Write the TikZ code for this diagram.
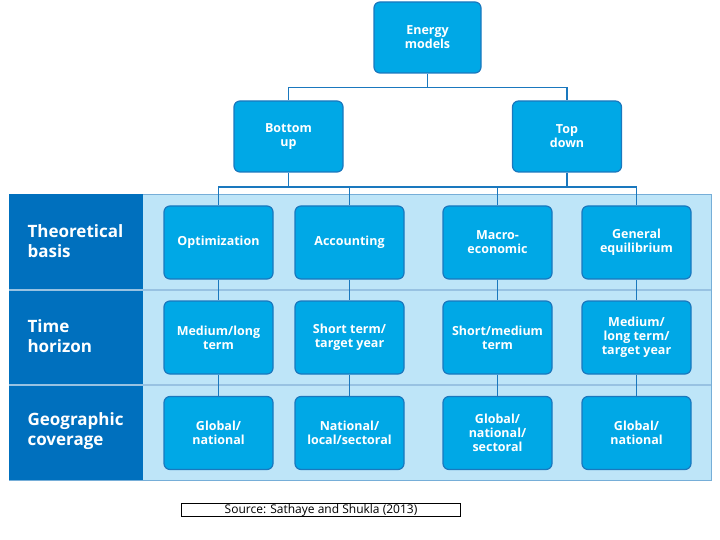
\documentclass[tikz,border=0pt]{standalone}
\usepackage{fontspec}
\setmainfont{Open Sans}
\begin{document}
\begin{tikzpicture}[x=1pt,y=-1pt,
  box/.style={draw=boxline,line width=1.2pt,fill=boxfill,rounded corners=6pt,text=white,font=\bfseries\fontsize{12.5}{14}\selectfont,align=center,minimum width=109pt,minimum height=73pt,inner sep=1pt},
  cat/.style={text=white,font=\bfseries\fontsize{17}{19.5}\selectfont,align=left,anchor=west},
  conn/.style={draw=boxline,line width=1.6pt}]
\definecolor{boxfill}{RGB}{0,168,230}
\definecolor{boxline}{RGB}{26,120,190}
\definecolor{darkcol}{RGB}{0,112,190}
\definecolor{lightbg}{RGB}{190,229,248}
\useasboundingbox (0,0) rectangle (720,540);
\fill[lightbg] (9,194) rectangle (711,480);
\draw[boxline!60,line width=0.8pt] (9,194) rectangle (711,480);
\fill[darkcol] (9,194) rectangle (143,480);
\draw[boxline!45,line width=1.5pt] (9,290) -- (711,290) (9,385) -- (711,385);
\node[box,minimum height=71pt,minimum width=107pt] (em) at (427.5,37.5) {Energy\\models};
\node[box,minimum height=71pt] (bu) at (288.5,136.5) {Bottom\\up};
\node[box,minimum height=71pt] (td) at (567,136.5) {Top\\down};
\node[box] (a1) at (218.5,242.5) {Optimization};
\node[box] (b1) at (349.5,242.5) {Accounting};
\node[box] (c1) at (497.5,242.5) {Macro-\\economic};
\node[box] (d1) at (636.5,242.5) {General\\equilibrium};
\node[box] (a2) at (218.5,337.5) {Medium/long\\term};
\node[box] (b2) at (349.5,337.5) {Short term/\\target year};
\node[box] (c2) at (497.5,337.5) {Short/medium\\term};
\node[box] (d2) at (636.5,337.5) {Medium/\\long term/\\target year};
\node[box] (a3) at (218.5,433) {Global/\\national};
\node[box] (b3) at (349.5,433) {National/\\local/sectoral};
\node[box] (c3) at (497.5,433) {Global/\\national/\\sectoral};
\node[box] (d3) at (636.5,433) {Global/\\national};
\node[cat] (t1) at (24,241) {Theoretical\\basis};
\node[cat] (t2) at (24,336) {Time\\horizon};
\node[cat] (t3) at (24,431) {Geographic\\coverage};
\draw[conn] (em.south) -- ++(0,14) -| (bu.north);
\draw[conn] (em.south) ++(0,14) -| (td.north);
\draw[conn] (bu.south) -- ++(0,14.5) coordinate (hb);
\draw[conn] (td.south) -- ++(0,14.5);
\draw[conn] (a1.north) |- (hb) -| (d1.north);
\draw[conn] (b1.north) -- (b1.north |- hb);
\draw[conn] (c1.north) -- (c1.north |- hb);
\foreach \c in {a,b,c,d}{
  \draw[conn] (\c1.south) -- (\c2.north);
  \draw[conn] (\c2.south) -- (\c3.north);}
\node[draw=black,line width=1.5pt,inner sep=0pt,minimum width=279pt,minimum height=13pt,font=\fontsize{12}{13}\selectfont] (src) at (321,510) {Source: Sathaye and Shukla (2013)};
\end{tikzpicture}
\end{document}
